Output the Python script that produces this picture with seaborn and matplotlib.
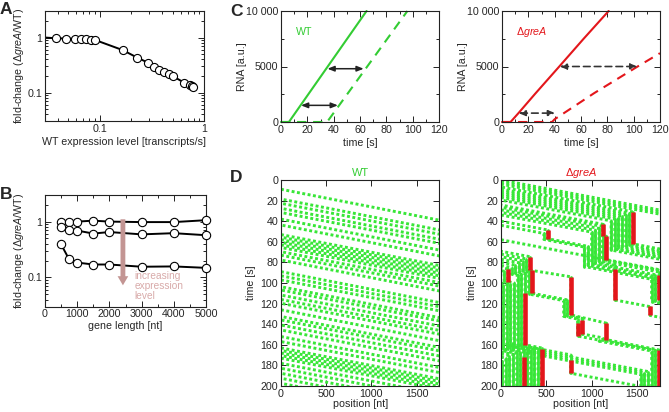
import numpy as np
import pandas as pd
import matplotlib
matplotlib.use("Agg")
import matplotlib.pyplot as plt
import seaborn as sns
from matplotlib.ticker import FixedLocator, LogLocator, NullFormatter, FuncFormatter, MultipleLocator

# panel A data: fold-change vs WT expression level
a_expr = [0.0385, 0.0475, 0.058, 0.066, 0.074, 0.082, 0.091, 0.167, 0.23, 0.29,
          0.334, 0.374, 0.417, 0.46, 0.50, 0.65, 0.74, 0.77, 0.79]
a_fold = [0.97, 0.96, 0.95, 0.94, 0.93, 0.92, 0.90, 0.59, 0.43, 0.35,
          0.29, 0.26, 0.24, 0.215, 0.20, 0.15, 0.135, 0.13, 0.127]
a_line_x = [0.03] + a_expr + [0.78]
a_line_y = [1.0] + a_fold + [0.115]

# panel B data: fold-change vs gene length, three expression levels
b_len = [500, 750, 1000, 1500, 2000, 3000, 4000, 5000]
b_low = [1.0, 0.98, 1.0, 1.04, 1.0, 0.98, 0.98, 1.06]
b_mid = [0.80, 0.70, 0.69, 0.61, 0.65, 0.59, 0.62, 0.57]
b_high = [0.39, 0.21, 0.184, 0.17, 0.17, 0.155, 0.157, 0.148]

# panel C data: RNA accumulation
c_wt_t = [0, 6, 65]
c_wt_rna = [0, 0, 10000]
c_wt_dash_t = [0, 35, 96]
c_wt_dash_rna = [0, 0, 10000]
c_gre_t = [0, 6.5, 12.5, 25, 43.5, 62, 81]
c_gre_rna = [0, 0, 800, 2520, 5000, 7500, 10000]
c_gre_dash_t = [0, 38, 40, 70, 103, 120]
c_gre_dash_rna = [0, 0, 250, 2600, 5000, 6200]
c_wt_arrow_y = [1500, 4800]
c_wt_arrow_x0 = [15.2, 35.3]
c_wt_arrow_x1 = [43.2, 62.8]
c_gre_arrow_y = [800, 5000]
c_gre_arrow_x0 = [12.5, 43.7]
c_gre_arrow_x1 = [40.5, 103]

# panel D data: polymerase trajectories
wt_entry = [9, 18.5, 22.6, 27.5, 31.5, 38, 43.7, 53, 55.5, 58, 60.5, 63, 65.5, 69.6, 73,
            77.7, 89, 93, 97, 103.6, 106.8, 111.7, 116, 119.7, 126, 132.5, 135.9, 140.8,
            145.6, 152, 156.9, 163, 165.5, 168, 170.5, 173, 178, 182.8, 187.7, 192.5, 197.4]
wt_transit = 30.0
gene_len = 1750

gre_tracks = [
    [(0, 0), (1750, 29.2)],
    [(0, 2), (1750, 31.2)],
    [(0, 4), (1750, 33.2)],
    [(0, 6.8), (1452, 31), (1452, 62), (1750, 67)],
    [(0, 9), (1412, 32.5), (1412, 63), (1750, 68.6)],
    [(0, 11), (1372, 33.9), (1372, 64), (1750, 70.3)],
    [(0, 13), (1332, 35.2), (1332, 65), (1750, 72)],
    [(0, 15), (1292, 36.5), (1292, 66), (1750, 73.6)],
    [(0, 17), (1252, 37.9), (1252, 67), (1750, 75.3)],
    [(0, 19.5), (1212, 39.7), (1212, 68), (1750, 77)],
    [(0, 24.3), (1122, 43), (1122, 54), (1158, 54.6), (1158, 78), (1750, 87.9)],
    [(0, 26.5), (1118, 45.1), (1118, 79), (1738, 89.3), (1738, 116.5), (1750, 116.7)],
    [(0, 29), (1078, 47), (1078, 80), (1255, 83), (1255, 116.5), (1642, 123), (1642, 131.5), (1750, 133.3)],
    [(0, 31.5), (1038, 48.8), (1038, 81), (1698, 92), (1698, 117.2), (1750, 118.1)],
    [(0, 34), (998, 50.6), (998, 82), (1658, 93), (1658, 118), (1750, 119.5)],
    [(0, 40), (512, 48.5), (512, 57), (958, 64.4), (958, 83), (1750, 96.2)],
    [(0, 44), (472, 51.9), (472, 57.7), (918, 65.1), (918, 84), (1750, 97.9)],
    [(0, 58), (1750, 87.2)],
    [(0, 69.2), (319, 74.5), (319, 87.5), (770, 94), (770, 131), (1160, 139), (1160, 155), (1739, 165), (1739, 200)],
    [(0, 72), (279, 76.65), (279, 87.5), (344, 88.6), (344, 110), (730, 116.4), (730, 131.7), (895, 134.4),
     (895, 149.5), (1120, 153.25), (1120, 155.7), (1699, 165.35), (1699, 200)],
    [(0, 74.5), (239, 78.5), (239, 88.5), (304, 89.6), (304, 110.7), (690, 117.1), (690, 132.4), (843, 135),
     (843, 151.5), (1080, 155.45), (1080, 156.4), (1659, 166.05), (1659, 200)],
    [(0, 77), (199, 80.3), (199, 89.5), (264, 90.6), (264, 160), (447, 163.05), (447, 200)],
    [(0, 80), (159, 82.65), (159, 90.5), (224, 91.6), (224, 160.7), (407, 163.75), (407, 200)],
    [(0, 83), (119, 85), (119, 91.5), (184, 92.6), (184, 161.4), (367, 164.45), (367, 200)],
    [(0, 85.25), (75, 86.5), (75, 98.7), (144, 99.85), (144, 162.1), (327, 165.15), (327, 200)],
    [(0, 88), (35, 88.6), (35, 99.4), (104, 100.55), (104, 162.8), (287, 165.85), (287, 200)],
    [(0, 100.1), (64, 101.15), (64, 163.5), (253, 166.65), (253, 200)],
    [(0, 101.5), (24, 101.9), (24, 164.2), (213, 167.35), (213, 200)],
    [(0, 165.5), (173, 168.4), (173, 200)],
    [(0, 167), (133, 169.2), (133, 200)],
    [(0, 169), (93, 170.55), (93, 200)],
    [(0, 172), (53, 172.9), (53, 200)],
    [(0, 176), (13, 176.2), (13, 200)],
    [(0, 157), (767, 169.8), (767, 187.6), (1487, 199.6)],
    [(0, 159), (1619, 186), (1619, 200)],
    [(0, 161), (1579, 187.3), (1579, 200)],
    [(0, 163), (1539, 188.6), (1539, 200)],
]

# backtracked pauses (red)
red_pos = [1452, 512, 1122, 1158, 319, 75, 344, 770, 264, 1255, 1738, 1642, 843, 895, 1160, 447, 253, 767, 1739]
red_start = [31, 48.5, 43, 54.5, 74.5, 86.5, 87.5, 94, 110, 86, 92, 122.5, 138.5, 135.5, 139, 164, 171.5, 175, 165]
red_end = [62, 57, 54, 78, 87.5, 98.7, 110, 131, 160, 116.5, 116.5, 131.5, 151.5, 149.5, 155, 200, 200, 187.6, 200]

GREEN_C = "#33cc33"
GREEN_D = "#38e638"
RED = "#e3161b"
FS = 7.7

sns.set_style("ticks")
plt.rcParams["font.family"] = ["Liberation Sans", "DejaVu Sans"]
plt.rcParams["mathtext.fontset"] = "custom"
plt.rcParams["mathtext.rm"] = "Liberation Sans"
plt.rcParams["mathtext.it"] = "Liberation Sans:italic"
plt.rcParams["font.size"] = FS

W, H = 669, 412
fig = plt.figure(figsize=(W / 100, H / 100), dpi=100)


def box(left, top, right, bottom):
    return fig.add_axes([left / W, 1 - bottom / H, (right - left) / W, (bottom - top) / H])


def frame(ax):
    for s in ax.spines.values():
        s.set_color("#222222")
        s.set_linewidth(0.8)
    ax.tick_params(which="both", direction="in", top=True, right=True,
                   labelsize=FS, pad=2, width=0.7, color="#222222")
    ax.tick_params(which="major", length=4)
    ax.tick_params(which="minor", length=2.2)


gfmt = FuncFormatter(lambda v, _: f"{v:g}")
ylab_ratio = "fold-change (Δ$\\mathit{greA}$/WT)"

# ---------- panel A
ax = box(45, 11.3, 204, 121.3)
sns.lineplot(x=a_line_x, y=a_line_y, ax=ax, color="black", lw=1.4, sort=False)
sns.scatterplot(x=a_expr, y=a_fold, ax=ax, s=34, color="white", edgecolor="black",
                linewidth=0.8, zorder=3)
ax.set_xscale("log")
ax.set_yscale("log")
ax.set_xlim(0.03, 1)
ax.set_ylim(0.03, 3)
for axis in (ax.xaxis, ax.yaxis):
    axis.set_major_locator(FixedLocator([0.1, 1]))
    axis.set_minor_locator(LogLocator(subs=np.arange(2, 10)))
    axis.set_major_formatter(gfmt)
    axis.set_minor_formatter(NullFormatter())
frame(ax)
ax.set_xlabel("WT expression level [transcripts/s]", fontsize=FS)
ax.set_ylabel(ylab_ratio, fontsize=FS)
ax.xaxis.set_label_coords(0.5, -0.14)
ax.yaxis.set_label_coords(-0.12, 0.5)

# ---------- panel B
ax = box(45, 195, 206, 306.5)
for vals in (b_low, b_mid, b_high):
    sns.lineplot(x=b_len, y=vals, ax=ax, color="black", lw=1.4, marker="o", markersize=6,
                 markerfacecolor="white", markeredgecolor="black", markeredgewidth=0.8,
                 clip_on=False, zorder=3)
ax.set_yscale("log")
ax.set_xlim(0, 5000)
ax.set_ylim(0.03, 3)
ax.xaxis.set_major_locator(MultipleLocator(1000))
ax.xaxis.set_minor_locator(MultipleLocator(500))
ax.yaxis.set_major_locator(FixedLocator([0.1, 1]))
ax.yaxis.set_minor_locator(LogLocator(subs=np.arange(2, 10)))
ax.yaxis.set_major_formatter(gfmt)
ax.yaxis.set_minor_formatter(NullFormatter())
ax.annotate("", xy=(2420, 0.072), xytext=(2420, 1.1),
            arrowprops=dict(arrowstyle="simple,head_length=0.85,head_width=1.0,tail_width=0.45",
                            color="#c39593", lw=0, shrinkA=0, shrinkB=0), zorder=4)
ax.text(2780, 0.128, "increasing\nexpression\nlevel", color="#d8aaa9", fontsize=7.3,
        va="top", ha="left", linespacing=0.95)
frame(ax)
ax.set_xlabel("gene length [nt]", fontsize=FS)
ax.set_ylabel(ylab_ratio, fontsize=FS)
ax.xaxis.set_label_coords(0.5, -0.13)
ax.yaxis.set_label_coords(-0.118, 0.5)


# ---------- panel C
def rna_panel(ax, st, sr, dt, dr, color, label, ay, ax0, ax1, dashed_arrows):
    sns.lineplot(x=st, y=sr, ax=ax, color=color, lw=1.5, sort=False, clip_on=False)
    sns.lineplot(x=dt, y=dr, ax=ax, color=color, lw=1.5, sort=False, clip_on=False,
                 linestyle=(0, (4.5, 3.2)))
    for y, x0, x1 in zip(ay, ax0, ax1):
        props = dict(arrowstyle="<|-|>,head_length=0.5,head_width=0.2", color="#222222",
                     lw=1.1, shrinkA=0, shrinkB=0, mutation_scale=8)
        if dashed_arrows:
            props["linestyle"] = (0, (4, 2.5))
            props["lw"] = 1.2
            props["color"] = "#333333"
        ax.annotate("", xy=(x1, y), xytext=(x0, y), arrowprops=props)
    ax.text(11, 8150, label, color=color, fontsize=FS, va="center", ha="left")
    ax.set_xlim(0, 120)
    ax.set_ylim(0, 10000)
    ax.xaxis.set_major_locator(MultipleLocator(20))
    ax.xaxis.set_minor_locator(MultipleLocator(10))
    ax.yaxis.set_major_locator(MultipleLocator(5000))
    ax.yaxis.set_minor_locator(MultipleLocator(2500))
    ax.yaxis.set_major_formatter(FuncFormatter(lambda v, _: "10 000" if v == 10000 else f"{v:g}"))
    frame(ax)
    ax.set_xlabel("time [s]", fontsize=FS)
    ax.set_ylabel("RNA [a.u.]", fontsize=FS)
    ax.xaxis.set_label_coords(0.5, -0.14)
    ax.yaxis.set_label_coords(-0.215, 0.5)


ax = box(281, 11, 439, 122)
rna_panel(ax, c_wt_t, c_wt_rna, c_wt_dash_t, c_wt_dash_rna, GREEN_C, "WT",
          c_wt_arrow_y, c_wt_arrow_x0, c_wt_arrow_x1, False)
ax = box(502, 11, 660, 122)
rna_panel(ax, c_gre_t, c_gre_rna, c_gre_dash_t, c_gre_dash_rna, RED, "Δ$\\mathit{greA}$",
          c_gre_arrow_y, c_gre_arrow_x0, c_gre_arrow_x1, True)

# ---------- panel D
DOT_ON, DOT_OFF = 1.0, 0.86   # one square per second of travel


def phase_dots(ax, n_before, starts):
    # dots sit at whole seconds, so shift each track's pattern by its start time
    for line, t0 in zip(ax.lines[n_before:], starts):
        line.set_linestyle(((t0 % 1) * (DOT_ON + DOT_OFF), (DOT_ON, DOT_OFF)))


def kymo_frame(ax, title, color):
    ax.set_xlim(0, gene_len)
    ax.set_ylim(200, 0)
    ax.xaxis.set_major_locator(FixedLocator([0, 500, 1000, 1500]))
    ax.yaxis.set_major_locator(MultipleLocator(20))
    frame(ax)
    ax.set_title(title, color=color, fontsize=FS + 0.2, pad=3)
    ax.set_xlabel("position [nt]", fontsize=FS)
    ax.set_ylabel("time [s]", fontsize=FS)
    ax.xaxis.set_label_coords(0.5, -0.065)
    ax.yaxis.set_label_coords(-0.155, 0.5)


ax = box(281, 180, 439.3, 386)
wt_df = pd.DataFrame({
    "line": np.repeat(np.arange(len(wt_entry)), 2),
    "pos": [0, gene_len] * len(wt_entry),
    "time": [t for t0 in wt_entry for t in (t0, t0 + wt_transit)],
})
sns.lineplot(data=wt_df, x="pos", y="time", units="line", estimator=None, sort=False,
             color=GREEN_D, lw=2.1, ax=ax)
phase_dots(ax, 0, wt_entry)
kymo_frame(ax, "WT", GREEN_C)

ax = box(501, 180, 660, 386)
rows, holds = [], []
for i, tr in enumerate(gre_tracks):
    for p, t in tr:
        rows.append((i, p, t))
    for j, ((p0, t0), (p1, t1)) in enumerate(zip(tr[:-1], tr[1:])):
        if p0 == p1:
            holds += [(f"{i}-{j}", p0, t0), (f"{i}-{j}", p1, t1)]
gre_df = pd.DataFrame(rows, columns=["line", "pos", "time"])
hold_df = pd.DataFrame(holds, columns=["seg", "pos", "time"])
red_df = pd.DataFrame({
    "seg": np.repeat(np.arange(len(red_pos)), 2),
    "pos": np.repeat(red_pos, 2),
    "time": [t for a, b in zip(red_start, red_end) for t in (a, b)],
})
sns.lineplot(data=gre_df, x="pos", y="time", units="line", estimator=None, sort=False,
             color=GREEN_D, lw=2.1, ax=ax)
phase_dots(ax, 0, [tr[0][1] for tr in gre_tracks])
sns.lineplot(data=hold_df, x="pos", y="time", units="seg", estimator=None, sort=False,
             color=GREEN_D, lw=2.0, ax=ax)
sns.lineplot(data=red_df, x="pos", y="time", units="seg", estimator=None, sort=False,
             color=RED, lw=3.3, solid_capstyle="butt", ax=ax)
kymo_frame(ax, "Δ$\\mathit{greA}$", RED)
ax.yaxis.set_label_coords(-0.15, 0.5)

# panel letters
for letter, x, y in [("A", 0, 2), ("B", 0, 187), ("C", 230, 4), ("D", 230, 170)]:
    fig.text(x / W, 1 - y / H, letter, fontsize=12.5, fontweight="bold", va="top", ha="left")

fig.savefig("out.png", dpi=100)
